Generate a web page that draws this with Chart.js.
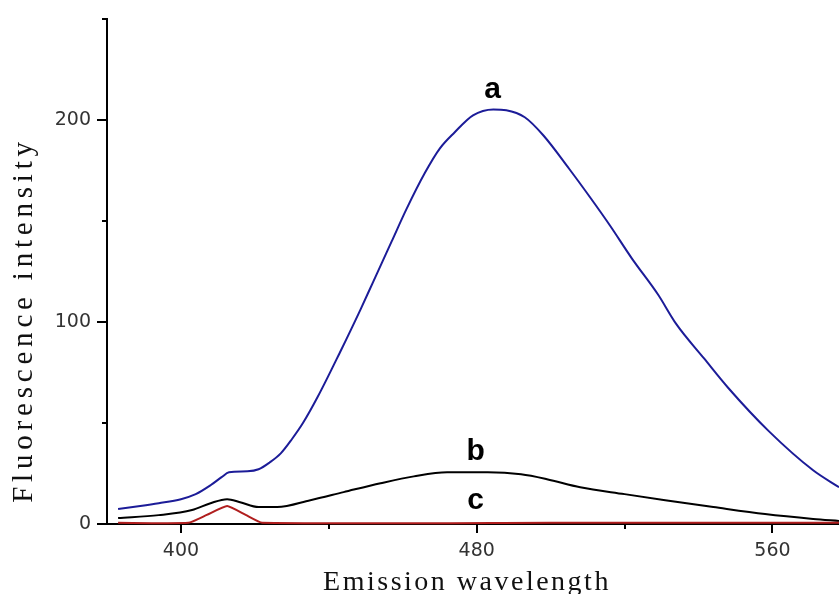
<!DOCTYPE html>
<html>
<head>
<meta charset="utf-8">
<script src="https://cdn.jsdelivr.net/npm/chart.js@4.4.1/dist/chart.umd.min.js"></script>
<style>
    html, body { margin: 0; padding: 0; background: #fff; }
    #wrap { width: 839px; height: 594px; }
</style>
</head>
<body>
<div id="wrap"><canvas id="chart" width="839" height="594"></canvas></div>
<script>
/* ============================================================
   Fluorescence emission spectra (a, b, c)
============================================================ */

// curve a (blue)
const waveA = [383, 389, 394, 400, 404, 408, 411, 413, 418, 421, 424, 427, 430, 433, 437, 443, 448.5, 452, 457, 461, 466, 470, 474, 479, 484.5, 488, 493, 498, 505, 511, 516, 522, 529, 534, 541.5, 548, 559, 571, 578];
const intensA = [7.4, 8.9, 10.3, 12.3, 14.8, 19.2, 23.2, 25.6, 26.1, 27.1, 30.5, 35, 42, 50, 63, 85, 106, 120, 140, 156, 174, 186, 194, 202.5, 205.4, 205, 201.5, 192.6, 176, 161, 148, 131.5, 113.8, 99, 82, 67.5, 46, 26.6, 18.2];

// curve b (black)
const waveB = [383, 394, 403, 408, 412.5, 416, 421, 426, 435, 444, 454, 463, 472, 483, 492, 499, 508, 520, 531, 544, 558, 571, 578];
const intensB = [3, 4.4, 6.9, 10.3, 12.3, 10.8, 8.4, 8.4, 11.8, 15.8, 20.2, 23.6, 25.6, 25.6, 24.6, 22.2, 18.2, 14.8, 11.8, 8.4, 4.9, 2.5, 1.5];

// curve c (red)
const waveC = [383, 402, 407, 412.5, 417.5, 422, 500, 578];
const intensC = [0.6, 0.6, 4.5, 8.9, 4.5, 0.6, 0.6, 0.6];

// ticks
const xTicks = [400, 480, 560];
const xMinor = [440, 520];
const yTicks = [0, 100, 200];
const yMinor = [50, 150, 250];

// curve names
const curveNames = ["a", "b", "c"];

function toPoints(xs, ys) {
    return xs.map((v, i) => ({ x: v, y: ys[i] }));
}

/* Ticks, titles and letters */
const decor = {
    id: "decor",
    afterDraw(chart) {
        const { ctx, chartArea: ca, scales: { x, y } } = chart;
        ctx.save();
        ctx.strokeStyle = "#000";
        ctx.lineWidth = 2;
        ctx.beginPath();
        for (const v of xTicks) {
            const px = Math.round(x.getPixelForValue(v));
            ctx.moveTo(px, ca.bottom); ctx.lineTo(px, ca.bottom + 9);
        }
        for (const v of xMinor) {
            const px = Math.round(x.getPixelForValue(v));
            ctx.moveTo(px, ca.bottom); ctx.lineTo(px, ca.bottom + 5);
        }
        for (const v of yTicks) {
            const py = Math.round(y.getPixelForValue(v));
            ctx.moveTo(ca.left, py); ctx.lineTo(ca.left - 10, py);
        }
        for (const v of yMinor) {
            const py = Math.round(y.getPixelForValue(v));
            ctx.moveTo(ca.left, py); ctx.lineTo(ca.left - 5, py);
        }
        ctx.stroke();

        // axis titles
        ctx.fillStyle = "#111";
        ctx.font = "28px 'Liberation Serif'";
        ctx.textAlign = "center";
        ctx.textBaseline = "alphabetic";
        ctx.letterSpacing = "2.5px";
        ctx.fillText("Emission wavelength", 467, 590);

        ctx.save();
        ctx.translate(32, 320);
        ctx.rotate(-Math.PI / 2);
        ctx.font = "29px 'Liberation Serif'";
        ctx.letterSpacing = "4.8px";
        ctx.fillText("Fluorescence intensity", 0, 0);
        ctx.restore();

        // curve letters
        ctx.letterSpacing = "0px";
        ctx.font = "bold 30px 'Liberation Sans'";
        ctx.fillStyle = "#000";
        const spots = [[484.3, 211.3], [479.7, 31.5], [479.7, 7.4]];
        curveNames.forEach((n, i) => {
            ctx.fillText(n, x.getPixelForValue(spots[i][0]), y.getPixelForValue(spots[i][1]));
        });
        ctx.restore();
    }
};

const ctx = document.getElementById("chart");

new Chart(ctx, {
    type: "line",
    data: {
        datasets: [
            {
                label: "c",
                data: toPoints(waveC, intensC),
                borderColor: "#b01e1e",
                borderWidth: 2,
                pointRadius: 0,
                tension: 0.15,
                clip: false
            },
            {
                label: "b",
                data: toPoints(waveB, intensB),
                borderColor: "#000",
                borderWidth: 2,
                pointRadius: 0,
                cubicInterpolationMode: "monotone"
            },
            {
                label: "a",
                data: toPoints(waveA, intensA),
                borderColor: "#1c1c98",
                borderWidth: 2,
                pointRadius: 0,
                cubicInterpolationMode: "monotone"
            }
        ]
    },
    options: {
        responsive: false,
        animation: false,
        devicePixelRatio: 1,
        layout: { padding: { top: 3, right: 0, left: 0, bottom: 0 } },
        plugins: {
            legend: { display: false },
            tooltip: { enabled: false }
        },
        scales: {
            x: {
                type: "linear",
                min: 380,
                max: 578,
                grid: { display: false },
                border: { display: true, color: "#000", width: 2 },
                afterBuildTicks: s => { s.ticks = xTicks.map(v => ({ value: v })); },
                afterFit: s => { s.height = 70; },
                ticks: {
                    color: "#333",
                    font: { family: "'DejaVu Sans'", size: 19 },
                    padding: 8,
                    maxRotation: 0
                }
            },
            y: {
                min: 0,
                max: 250,
                grid: { display: false },
                border: { display: true, color: "#000", width: 2 },
                afterBuildTicks: s => { s.ticks = yTicks.map(v => ({ value: v })); },
                afterFit: s => { s.width = 107; },
                ticks: {
                    color: "#333",
                    font: { family: "'DejaVu Sans'", size: 19 },
                    padding: 8
                }
            }
        }
    },
    plugins: [decor]
});
</script>
</body>
</html>
